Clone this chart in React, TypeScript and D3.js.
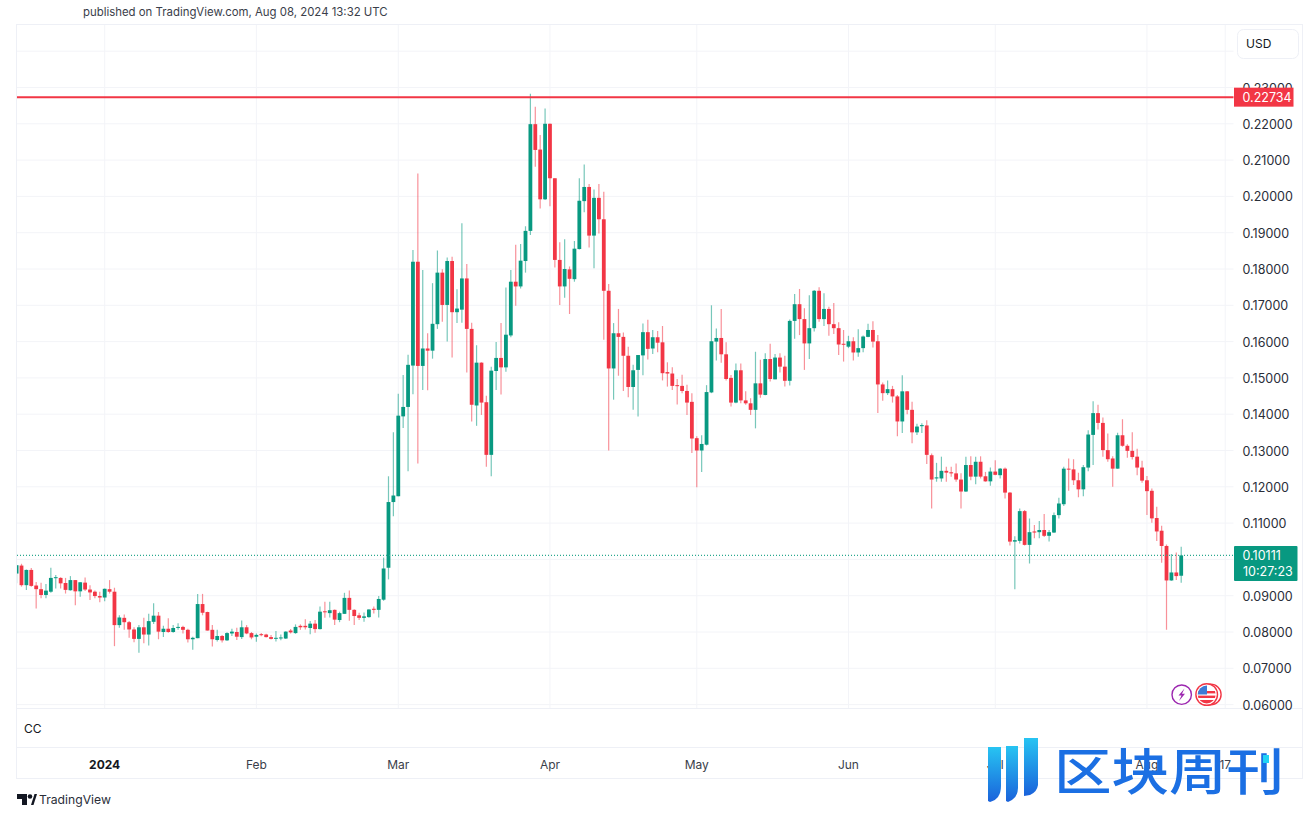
import React from "react";
import * as d3 from "d3";

// All candle values are [open, high, low, close], in units of 0.0001 USD. One candle per day.
const PRICE_UNIT = 1e-4;
const firstDay = Date.UTC(2023, 11, 14);
const lastDay = Date.UTC(2024, 7, 8);

const dec2023: number[][] = [
  [961,984,934,984],[983,988,925,929],[929,972,916,971],[971,976,925,927],[928,938,865,918],[918,936,893,902],
  [902,932,893,914],[911,977,908,949],[949,957,920,951],[949,951,920,934],[935,949,906,916],[915,954,914,943],
  [943,943,874,912],[912,938,897,937],[936,950,913,917],[917,929,888,909],[911,914,893,899],[899,911,882,895],
];
const jan2024: number[][] = [
  [895,920,885,919],[918,943,906,911],[911,922,761,819],[819,846,812,840],[839,848,806,827],[827,830,784,807],
  [807,813,772,781],[781,819,743,813],[813,839,769,793],[793,850,763,830],[828,879,822,845],[845,855,780,801],
  [800,817,786,809],[809,838,798,800],[800,819,798,811],[812,824,806,814],[814,817,796,806],[806,809,771,780],
  [780,787,751,784],[783,905,783,877],[877,905,846,853],[855,856,804,804],[806,819,760,780],[778,806,774,789],
  [789,792,771,777],[777,799,775,797],[796,809,789,801],[800,812,778,787],[786,832,781,813],[813,819,794,796],
  [797,800,780,785],
];
const feb2024: number[][] = [
  [787,796,773,792],[794,797,788,792],[793,795,785,786],[786,792,779,781],[783,803,774,784],[783,793,777,785],
  [782,802,781,801],[804,808,796,799],[797,821,795,814],[817,821,806,813],[817,835,807,813],[811,830,794,823],
  [823,833,798,808],[808,870,807,856],[857,883,839,855],[852,883,840,860],[861,862,819,834],[833,856,827,852],
  [850,908,850,894],[894,914,831,861],[861,863,819,844],[846,853,833,839],[839,854,828,843],[841,863,839,862],
  [864,870,851,861],[861,899,840,891],[889,1005,886,975],[977,1229,945,1158],[1158,1350,1119,1176],
];
const mar2024: number[][] = [
  [1174,1456,1174,1396],[1394,1508,1362,1420],[1420,1564,1243,1536],[1534,1852,1455,1820],[1820,2063,1264,1533],
  [1533,1797,1467,1581],[1581,1623,1466,1575],[1575,1761,1553,1649],[1648,1851,1635,1790],[1790,1799,1655,1701],
  [1701,1832,1600,1822],[1822,1834,1556,1681],[1681,1744,1651,1691],[1688,1926,1652,1774],[1774,1814,1515,1635],
  [1635,1652,1380,1426],[1424,1590,1368,1542],[1542,1543,1398,1432],[1433,1451,1255,1288],[1288,1531,1229,1520],
  [1519,1599,1467,1555],[1555,1651,1454,1529],[1529,1749,1517,1619],[1617,1797,1612,1765],[1765,1867,1699,1752],
  [1752,1869,1746,1823],[1822,1918,1790,1905],[1905,2283,1894,2199],[2199,2247,2082,2128],[2129,2169,1967,1992],
  [1992,2242,1990,2200],
];
const apr2024: number[][] = [
  [2200,2201,1973,2050],[2050,2050,1804,1825],[1825,1874,1701,1752],[1752,1882,1721,1800],[1799,1807,1676,1773],
  [1772,1877,1765,1856],[1855,2050,1854,1988],[1987,2088,1956,2026],[2026,2034,1859,1892],[1892,2019,1802,1996],
  [1996,2034,1898,1937],[1937,2013,1605,1740],[1740,1759,1300,1526],[1526,1651,1440,1623],[1623,1690,1506,1613],
  [1613,1625,1464,1561],[1561,1586,1447,1475],[1475,1536,1412,1521],[1522,1563,1394,1563],[1562,1650,1507,1626],
  [1626,1660,1551,1580],[1581,1632,1566,1612],[1612,1629,1571,1597],[1598,1643,1493,1513],[1516,1543,1476,1512],
  [1512,1529,1467,1478],[1480,1497,1427,1478],[1478,1509,1458,1464],[1464,1481,1398,1432],[1434,1458,1293,1333],
];
const may2024: number[][] = [
  [1334,1339,1199,1300],[1300,1342,1241,1318],[1316,1480,1314,1461],[1460,1700,1458,1601],[1600,1636,1548,1610],
  [1610,1690,1542,1565],[1565,1598,1493,1497],[1500,1508,1421,1432],[1432,1540,1430,1521],[1521,1540,1430,1438],
  [1438,1463,1426,1430],[1430,1444,1398,1412],[1412,1572,1361,1485],[1485,1550,1445,1454],[1453,1568,1452,1552],
  [1552,1594,1490,1497],[1496,1566,1496,1556],[1556,1568,1515,1531],[1531,1561,1476,1492],[1492,1661,1479,1657],
  [1657,1731,1608,1703],[1703,1745,1618,1662],[1662,1692,1522,1595],[1595,1728,1552,1637],[1637,1742,1628,1740],
  [1740,1750,1655,1662],[1662,1733,1643,1690],[1690,1696,1616,1648],[1648,1706,1621,1637],[1637,1653,1563,1592],
  [1594,1632,1545,1592],
];
const jun2024: number[][] = [
  [1586,1616,1582,1601],[1601,1612,1548,1570],[1570,1634,1558,1582],[1582,1617,1571,1614],[1613,1649,1612,1632],
  [1632,1656,1584,1600],[1601,1618,1403,1482],[1482,1487,1437,1458],[1458,1493,1453,1469],[1469,1478,1432,1449],
  [1449,1453,1339,1380],[1380,1507,1348,1463],[1463,1464,1400,1412],[1412,1434,1320,1350],[1350,1374,1343,1366],
  [1367,1375,1348,1370],[1369,1383,1263,1288],[1287,1292,1140,1220],[1223,1266,1214,1226],[1223,1283,1214,1244],
  [1244,1255,1214,1239],[1240,1255,1228,1237],[1237,1264,1214,1220],[1220,1237,1140,1187],[1187,1283,1186,1260],
  [1260,1284,1218,1228],[1228,1283,1207,1269],[1269,1284,1223,1228],[1229,1241,1214,1215],[1215,1253,1203,1242],
];
const jul2024: number[][] = [
  [1242,1273,1232,1233],[1232,1252,1223,1250],[1250,1253,1168,1184],[1184,1186,1038,1049],[1049,1064,918,1053],
  [1051,1140,1044,1133],[1133,1136,1038,1040],[1040,1113,989,1075],[1077,1095,1058,1074],[1075,1106,1058,1081],
  [1081,1125,1062,1065],[1065,1081,1049,1075],[1074,1129,1073,1122],[1122,1170,1113,1154],[1152,1255,1147,1250],
  [1250,1278,1189,1248],[1248,1276,1205,1218],[1218,1239,1171,1193],[1193,1260,1174,1254],[1253,1356,1243,1344],
  [1343,1436,1260,1403],[1403,1426,1358,1376],[1376,1391,1283,1301],[1301,1347,1269,1276],[1278,1284,1200,1250],
  [1250,1349,1250,1342],[1342,1386,1310,1313],[1313,1317,1280,1299],[1299,1350,1275,1282],[1283,1305,1232,1253],
  [1253,1272,1211,1217],
];
const aug2024: number[][] = [
  [1218,1230,1122,1188],[1189,1195,1101,1113],[1114,1145,1051,1077],[1079,1093,991,1037],[1037,1041,806,942],
  [942,1015,941,964],[964,1019,943,954],[955,1035,936,1011],
];

const priceTicks = [0.24, 0.23, 0.22, 0.21, 0.2, 0.19, 0.18, 0.17, 0.16, 0.15, 0.14, 0.13, 0.12, 0.11, 0.1, 0.09, 0.08, 0.07, 0.06];
const timeTicks: [number, number, string, boolean][] = [
  [0, 1, "2024", true], [1, 1, "Feb", false], [2, 1, "Mar", false], [3, 1, "Apr", false],
  [4, 1, "May", false], [5, 1, "Jun", false], [6, 1, "Jul", false], [7, 1, "Aug", false], [7, 17, "17", false],
];
const resistance = 0.22734;
const lastPrice = 0.10111;
const countdown = "10:27:23";

const UP = "#089981";
const DOWN = "#F23645";
const GRID = "#f3f4f8";
const BORDER = "#eef0f6";
const TEXT = "#131722";
const FONT = "Inter, Roboto, sans-serif";

const x = d3.scaleUtc().domain([firstDay, lastDay]).range([16.6, 1181.2]);
const y = d3.scaleLinear().domain([0.08, 0.22]).range([632, 123.8]);

const allCandles = [...dec2023, ...jan2024, ...feb2024, ...mar2024, ...apr2024, ...may2024, ...jun2024, ...jul2024, ...aug2024];
const candles = allCandles.map(([o, h, l, c], i) => ({
  date: d3.utcDay.offset(new Date(firstDay), i),
  open: o * PRICE_UNIT, high: h * PRICE_UNIT, low: l * PRICE_UNIT, close: c * PRICE_UNIT,
}));

export default function App() {
  const plotRight = 1233.5;
  return (
    <svg width={1311} height={815} viewBox="0 0 1311 815"
      style={{ position: "fixed", left: 0, top: 0, background: "#fff", display: "block" }}>
      <defs>
        <clipPath id="plot"><rect x={17} y={25} width={plotRight - 17} height={683} /></clipPath>
        <clipPath id="flag"><circle cx={1206.7} cy={694.5} r={9} /></clipPath>
        <linearGradient id="logoA" x1="0" y1="0" x2="0" y2="1">
          <stop offset="0" stopColor="#27c4f2" /><stop offset="1" stopColor="#1a62db" />
        </linearGradient>
      </defs>

      <text x={83} y={16} fontFamily={FONT} fontSize={11.4} fill="#3a3e4a">published on TradingView.com, Aug 08, 2024 13:32 UTC</text>

      {/* panes */}
      <rect x={16.5} y={24.5} width={1286} height={754} fill="#fff" stroke={BORDER} />
      {timeTicks.map(([m, day, label]) => {
        const px = x(Date.UTC(2024, m, day));
        return <line key={label} x1={px} x2={px} y1={25} y2={708} stroke={GRID} />;
      })}
      {priceTicks.map((p) => (
        <line key={p} x1={17} x2={plotRight} y1={y(p)} y2={y(p)} stroke={GRID} />
      ))}
      <line x1={17} x2={1302} y1={708.5} y2={708.5} stroke={BORDER} />
      <line x1={17} x2={1302} y1={747.5} y2={747.5} stroke={BORDER} />

      {/* candles */}
      <g clipPath="url(#plot)">
        {candles.map((c) => {
          const px = x(c.date.getTime());
          const up = c.close >= c.open;
          const col = up ? UP : DOWN;
          const top = y(Math.max(c.open, c.close));
          const bot = y(Math.min(c.open, c.close));
          return (
            <g key={c.date.getTime()}>
              <line x1={px} x2={px} y1={y(c.high)} y2={y(c.low)} stroke={col} strokeOpacity={0.55} strokeWidth={1.2} />
              <rect x={px - 1.9} width={3.8} y={top} height={Math.max(bot - top, 1)} fill={col} />
            </g>
          );
        })}
      </g>

      {/* price lines */}
      <line x1={17} x2={plotRight} y1={y(lastPrice)} y2={y(lastPrice)} stroke="#2ba88f" strokeWidth={1.2} strokeDasharray="1 2" />
      <line x1={17} x2={plotRight} y1={y(resistance)} y2={y(resistance)} stroke={DOWN} strokeWidth={2} />

      {/* price axis */}
      <rect x={1237.5} y={29.5} width={61} height={29} rx={6} fill="#fff" stroke={BORDER} />
      <text x={1246} y={48} fontFamily={FONT} fontSize={12} fill={TEXT}>USD</text>
      {priceTicks.slice(1).map((p) => (
        <text key={p} x={1242.5} y={y(p) + 5} fontFamily={FONT} fontSize={12.5} fill="#2a2e39">{p.toFixed(5)}</text>
      ))}
      <rect x={1234} y={y(resistance) - 9.5} width={59.5} height={19} fill={DOWN} />
      <text x={1242.5} y={y(resistance) + 4.5} fontFamily={FONT} fontSize={12.5} fill="#fff">{resistance.toFixed(5)}</text>
      <rect x={1234} y={546} width={63.5} height={35} rx={1} fill={UP} />
      <text x={1242.5} y={560} fontFamily={FONT} fontSize={12.5} fill="#fff">{lastPrice.toFixed(5)}</text>
      <text x={1243} y={576} fontFamily={FONT} fontSize={12.5} fill="#fff">{countdown}</text>

      {/* pane label and time axis */}
      <text x={24} y={733} fontFamily={FONT} fontSize={12} fill={TEXT}>CC</text>
      {timeTicks.map(([m, day, label, bold]) => (
        <text key={label} x={x(Date.UTC(2024, m, day))} y={768.5} textAnchor="middle" fontFamily={FONT}
          fontSize={12} fontWeight={bold ? 700 : 400} fill={bold ? TEXT : "#3a3e4a"}>{label}</text>
      ))}

      {/* event badges */}
      <circle cx={1181.7} cy={694.7} r={9.7} fill="#fff" stroke="#9c27b0" strokeWidth={1.4} />
      <path d="M1184.5 688.5 L1178.5 695.5 L1181.5 695.5 L1179 701 L1185 693.8 L1182 693.8 Z" fill="#9c27b0" />
      <circle cx={1210.7} cy={694.5} r={10.4} fill="#fff" stroke={DOWN} strokeWidth={1.4} />
      <circle cx={1206.7} cy={694.5} r={10.8} fill="#fff" stroke={DOWN} strokeWidth={1.4} />
      <g clipPath="url(#flag)">
        <rect x={1197} y={685} width={20} height={20} fill="#fff" />
        <rect x={1197} y={691} width={20} height={2.4} fill={DOWN} />
        <rect x={1197} y={695.6} width={20} height={2.4} fill={DOWN} />
        <rect x={1197} y={700} width={20} height={5} fill={DOWN} />
        <rect x={1197} y={685} width={10} height={9.5} fill="#3d7ad6" />
      </g>

      {/* TradingView mark */}
      <path d="M17 794 H27 V805 H22 V799 H17 Z" fill="#131722" />
      <circle cx={30} cy={796.5} r={2.3} fill="#131722" />
      <path d="M31 805 L34.5 794 H37 L33.5 805 Z" fill="#131722" />
      <text x={39} y={804} fontFamily={FONT} fontSize={12.2} fill="#2a2e39">TradingView</text>

      {/* watermark */}
      <g>
        <path d="M988 747 H1001 V786 Q1001 799 990 802 L988 801 Z" fill="url(#logoA)" />
        <path d="M1006 746 H1018 V788 Q1018 798 1008 802 L1006 801 Z" fill="url(#logoA)" />
        <path d="M1024 738 H1038 V785 Q1037 792 1030 795 L1024 796 Z" fill="url(#logoA)" />
        <text x={1054} y={790} fontFamily="'Noto Sans CJK SC'" fontWeight={500} fontSize={50} fill="#1b6fe3"
          textLength={230} lengthAdjust="spacingAndGlyphs">区块周刊</text>
        <rect x={1263} y={755} width={6} height={8} fill="#22d3f5" />
      </g>
    </svg>
  );
}
